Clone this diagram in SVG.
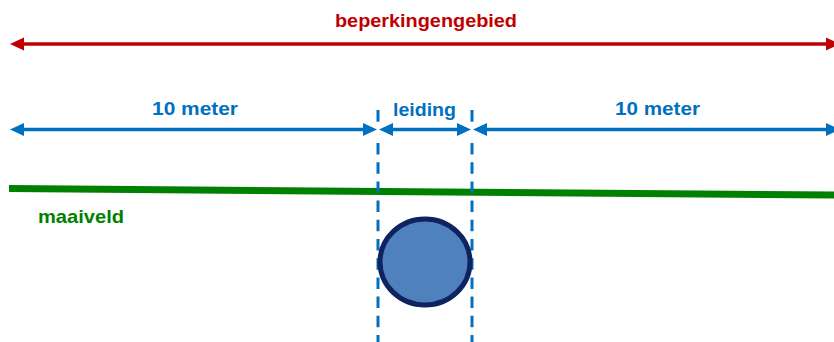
<svg xmlns="http://www.w3.org/2000/svg" width="834" height="342" viewBox="0 0 834 342">
  <style>
    .lbl { font-family: "Liberation Sans", Arial, sans-serif; font-weight: bold; font-size: 18.5px; }
    .red { fill: #C00000; }
    .blue { fill: #0070C0; }
    .green { fill: #008000; }
    .dim-red { stroke: #C00000; stroke-width: 3.5; fill: none; }
    .dim-blue { stroke: #0070C0; stroke-width: 3.5; fill: none; }
    .guide { stroke: #0070C0; stroke-width: 3; fill: none; }
  </style>
  <defs>
    <marker id="ahRed" markerUnits="userSpaceOnUse" markerWidth="16" markerHeight="16" refX="0" refY="6.5" orient="auto-start-reverse" overflow="visible">
      <path d="M0,0 L14,6.5 L0,13 Z" fill="#C00000"/>
    </marker>
    <marker id="ahBlue" markerUnits="userSpaceOnUse" markerWidth="16" markerHeight="16" refX="0" refY="6.5" orient="auto-start-reverse" overflow="visible">
      <path d="M0,0 L14,6.5 L0,13 Z" fill="#0070C0"/>
    </marker>
  </defs>

  <g id="ground">
    <line x1="9" y1="188.5" x2="834" y2="195" stroke="#008000" stroke-width="7"/>
    <text class="lbl green" x="38" y="223" textLength="86" lengthAdjust="spacingAndGlyphs">maaiveld</text>
  </g>

  <g id="guides">
    <line class="guide" x1="378" y1="110" x2="378" y2="121.7"/>
    <line class="guide" x1="378" y1="143" x2="378" y2="342" stroke-dasharray="11.5 7.7"/>
    <line class="guide" x1="472" y1="110" x2="472" y2="121.7"/>
    <line class="guide" x1="472" y1="143" x2="472" y2="342" stroke-dasharray="11.5 7.7"/>
  </g>

  <g id="pipe">
    <ellipse cx="425" cy="262" rx="45" ry="43" fill="#4F81BD" stroke="#0F2360" stroke-width="5"/>
  </g>

  <g id="connectors">
    <line class="dim-red" x1="24" y1="44" x2="826" y2="44" marker-start="url(#ahRed)" marker-end="url(#ahRed)"/>
    <line class="dim-blue" x1="24" y1="129.5" x2="363" y2="129.5" marker-start="url(#ahBlue)" marker-end="url(#ahBlue)"/>
    <line class="dim-blue" x1="393" y1="129.5" x2="457" y2="129.5" marker-start="url(#ahBlue)" marker-end="url(#ahBlue)"/>
    <line class="dim-blue" x1="487" y1="129.5" x2="826" y2="129.5" marker-start="url(#ahBlue)" marker-end="url(#ahBlue)"/>
  </g>

  <g id="label-beperkingengebied">
    <text class="lbl red" x="335" y="27" textLength="182" lengthAdjust="spacingAndGlyphs">beperkingengebied</text>
  </g>
  <g id="label-10m-left">
    <text class="lbl blue" x="152" y="115" textLength="86" lengthAdjust="spacingAndGlyphs">10 meter</text>
  </g>
  <g id="label-leiding">
    <text class="lbl blue" x="393" y="115.5" textLength="63" lengthAdjust="spacingAndGlyphs">leiding</text>
  </g>
  <g id="label-10m-right">
    <text class="lbl blue" x="615" y="115" textLength="85" lengthAdjust="spacingAndGlyphs">10 meter</text>
  </g>
</svg>
